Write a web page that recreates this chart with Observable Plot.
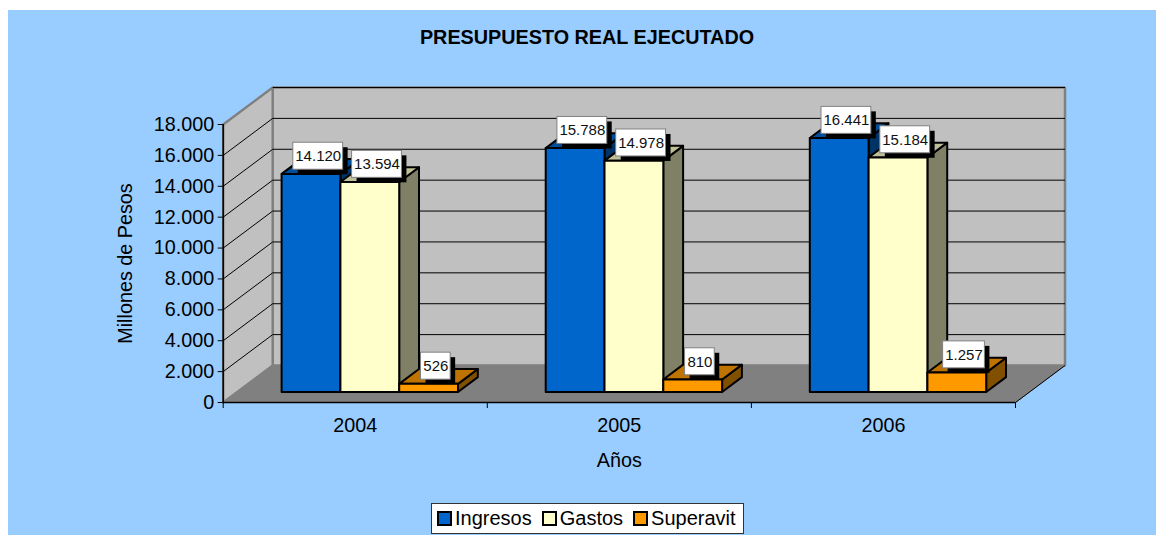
<!DOCTYPE html>
<html lang="es">
<head>
<meta charset="utf-8">
<script src="https://cdn.jsdelivr.net/npm/d3@7"></script>
<script src="https://cdn.jsdelivr.net/npm/@observablehq/plot@0.6"></script>
<style>
  html, body { margin: 0; padding: 0; background: #fff; }
  #chart { position: absolute; left: 8px; top: 10px; width: 1148px; height: 525px; background: #99ccff; overflow: hidden;
           font-family: "Liberation Sans", Arial, sans-serif; color: #000; }
  #title { height: 50px; line-height: 55px; text-align: center; font-weight: bold; font-size: 19.8px; padding-left: 10px; box-sizing: border-box; }
  #legend { position: absolute; left: 423px; top: 493px; width: 313px; height: 31px; box-sizing: border-box; background: #fff;
            border: 1px solid #333; display: flex; align-items: center; font-size: 20px; padding-left: 5px; }
  #legend span.item { display: flex; align-items: center; margin-right: 10px; }
  #legend i { display: inline-block; width: 15px; height: 15px; box-sizing: border-box; border: 2px solid #000; margin-right: 3px; }
</style>
</head>
<body>
<div id="chart">
  <div id="title"></div>
  <div id="plot"></div>
  <div id="legend"></div>
</div>
<script>
const titleText = "PRESUPUESTO REAL EJECUTADO";
const categories = ["2004", "2005", "2006"];
const seriesNames = ["Ingresos", "Gastos", "Superavit"];
const ingresos = [14120, 15788, 16441];
const gastos = [13594, 14978, 15184];
const superavit = [526, 810, 1257];
const yTicks = [0, 2000, 4000, 6000, 8000, 10000, 12000, 14000, 16000, 18000];
const seriesValues = [ingresos, gastos, superavit];
const frontColors = ["#0066cc", "#ffffcc", "#ff9900"];
const topColors = ["#004d99", "#bfbf99", "#bf7300"];
const sideColors = ["#003366", "#808066", "#805000"];

const fmt = d3.formatLocale({decimal: ",", thousands: ".", grouping: [3], currency: ["$", ""]}).format(",d");

// plot geometry
const width = 1148, height = 435;
const marginLeft = 214.7, marginRight = width - 1007, marginTop = 64, marginBottom = 93;
const pxX = 3 / (width - marginLeft - marginRight);
const pxY = 18000 / (height - marginTop - marginBottom);

// oblique projection: depth d (0 front .. 1 back) shifts along x and value
const DX = 49.5 * pxX, DY = 37 * pxY;
const P = (u, v, d = 0) => ({x: u + d * DX, y: v + d * DY});
const barInset = 44.3 * pxX, barW = 58.8 * pxX, dFront = 0.285, dBack = 0.685, dMid = 0.465;

const faces = [];
const poly = (id, fill, pts) => [...pts, pts[0]].forEach(p => faces.push({...p, id, fill}));
const labels = [];
categories.forEach((c, ci) => {
  seriesNames.forEach((s, si) => {
    const v = seriesValues[si][ci];
    const a = ci + barInset + si * barW, b = a + barW;
    poly(`${c}-${s}-side`, sideColors[si], [P(b, 0, dFront), P(b, 0, dBack), P(b, v, dBack), P(b, v, dFront)]);
    poly(`${c}-${s}-top`, topColors[si], [P(a, v, dFront), P(a, v, dBack), P(b, v, dBack), P(b, v, dFront)]);
    poly(`${c}-${s}-front`, frontColors[si], [P(a, 0, dFront), P(b, 0, dFront), P(b, v, dFront), P(a, v, dFront)]);
    const text = fmt(v);
    const center = P((a + b) / 2, v, dMid);
    const w = (text.replace(".", "").length * 8.06 + (text.includes(".") ? 4.03 : 0) + 5.5) * pxX;
    const h = 27 * pxY;
    const cx = center.x - 1.7 * pxX;
    const cy = center.y + 11 * pxY;
    labels.push({text, x: cx, y: cy, x1: cx - w / 2, x2: cx + w / 2, y1: cy - h / 2, y2: cy + h / 2});
  });
});

const close = pts => [...pts, pts[0]];
const backWall = close([P(0, 0, 1), P(3, 0, 1), P(3, 18000, 1), P(0, 18000, 1)]);
const leftWall = close([P(0, 0, 0), P(0, 0, 1), P(0, 18000, 1), P(0, 18000, 0)]);
const floor = close([P(0, 0, 0), P(3, 0, 0), P(3, 0, 1), P(0, 0, 1)]);
const grid = yTicks.filter(v => v > 0);
const seg = (a, b) => ({x1: a.x, y1: a.y, x2: b.x, y2: b.y});
const lines = [
  ...grid.map(v => seg(P(0, v, 1), P(3, v, 1))),
  ...grid.filter(v => v < 18000).map(v => seg(P(0, v, 0), P(0, v, 1)))
];

const chart = Plot.plot({
  width, height, marginLeft, marginRight, marginTop, marginBottom,
  x: {domain: [0, 3]},
  y: {domain: [0, 18000]},
  color: {type: "identity"},
  style: {background: "transparent", fontFamily: "'Liberation Sans', Arial, sans-serif", fontSize: "19.8px", color: "#000", overflow: "visible"},
  marks: [
    Plot.line(backWall, {x: "x", y: "y", fill: "#c0c0c0", stroke: "#808080", strokeWidth: 2.5, strokeLinejoin: "miter"}),
    Plot.line(leftWall, {x: "x", y: "y", fill: "#c0c0c0", stroke: "#808080", strokeWidth: 2.5, strokeLinejoin: "miter"}),
    Plot.link(lines, {x1: "x1", y1: "y1", x2: "x2", y2: "y2", stroke: "#000", strokeWidth: 1}),
    Plot.line(floor, {x: "x", y: "y", fill: "#808080", stroke: "#808080", strokeWidth: 1}),
    Plot.link([seg(P(3, 0, 0), P(3, 0, 1))], {x1: "x1", y1: "y1", x2: "x2", y2: "y2", stroke: "#000", strokeWidth: 1}),
    Plot.ruleY([0], {stroke: "#000", strokeWidth: 1.5}),
    Plot.ruleX([0], {stroke: "#000", strokeWidth: 1.5}),
    Plot.ruleX([0, 1, 2, 3], {y1: 0, y2: -6 * pxY, stroke: "#000", strokeWidth: 1}),
    Plot.line(faces, {x: "x", y: "y", z: "id", fill: "fill", stroke: "#000", strokeWidth: 2, strokeLinejoin: "round"}),
    Plot.rect(labels, {x1: "x1", x2: "x2", y1: "y1", y2: "y2", fill: "#000", dx: 5, dy: 5}),
    Plot.rect(labels, {x1: "x1", x2: "x2", y1: "y1", y2: "y2", fill: "#fff", stroke: "#808080", strokeWidth: 1}),
    Plot.text(labels, {x: "x", y: "y", text: "text", fontSize: 15, fill: "#111"}),
    Plot.axisY({ticks: yTicks, tickFormat: fmt, tickSize: 5, tickPadding: 4, label: "Millones de Pesos", labelAnchor: "center", labelOffset: 105, labelArrow: "none"}),
    Plot.axisX({ticks: [0.5, 1.5, 2.5], tickFormat: u => categories[Math.floor(u)], tickSize: 0, tickPadding: 15, label: "Años", labelAnchor: "center", labelOffset: 64, labelArrow: "none"})
  ]
});
document.getElementById("plot").append(chart);
document.getElementById("title").textContent = titleText;
const legend = document.getElementById("legend");
seriesNames.forEach((s, i) => {
  const item = document.createElement("span");
  item.className = "item";
  const sw = document.createElement("i");
  sw.style.background = frontColors[i];
  item.append(sw, document.createTextNode(s));
  legend.append(item);
});
</script>
</body>
</html>
